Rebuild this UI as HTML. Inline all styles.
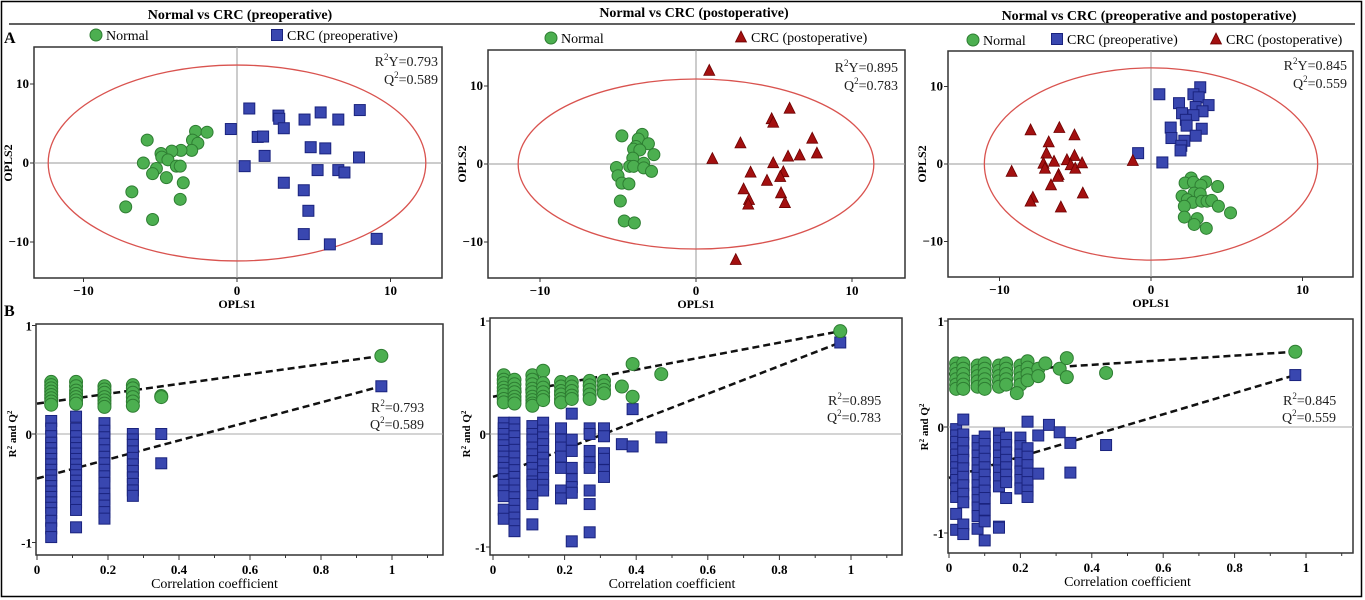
<!DOCTYPE html>
<html><head><meta charset="utf-8">
<style>
html,body{margin:0;padding:0;background:#fff;}
svg{display:block;font-family:"Liberation Serif",serif;}
</style></head>
<body>
<svg id="fig" width="1365" height="600" viewBox="0 0 1365 600" xmlns="http://www.w3.org/2000/svg">
<rect x="1.5" y="1.5" width="1360" height="595" fill="none" stroke="#000" stroke-width="1.5"/>
<line x1="9" y1="24" x2="1355" y2="24" stroke="#000" stroke-width="1.2"/>
<text x="240" y="19" text-anchor="middle" font-weight="bold" font-size="14">Normal vs CRC (preoperative)</text>
<text x="694" y="17" text-anchor="middle" font-weight="bold" font-size="14">Normal vs CRC (postoperative)</text>
<text x="1149" y="20" text-anchor="middle" font-weight="bold" font-size="14">Normal vs CRC (preoperative and postoperative)</text>
<text x="4" y="43" font-weight="bold" font-size="16">A</text>
<text x="4" y="316" font-weight="bold" font-size="16">B</text>
<g id="layer"></g>
</svg>
<script>
// ---------- Score plot data (OPLS1, OPLS2) ----------
const p1NormalX=[-5.85,-2.7,-1.95,-2.9,-2.55,-2.95,-3.65,-4.25,-4.95,-4.9,-4.5,-6.1,-5.25,-5.5,-3.95,-3.7,-4.6,-3.5,-6.85,-7.25,-3.7,-5.5];
const p1NormalY=[2.9,4.0,3.9,2.9,2.5,1.6,1.6,1.5,1.2,0.75,0.4,0,-0.7,-1.35,-0.4,-0.4,-1.85,-2.5,-3.65,-5.55,-4.6,-7.15];
const p1PreX=[0.8,-0.4,2.7,2.75,3.05,4.4,5.45,6.6,8.0,1.35,1.7,4.8,5.75,1.8,7.95,0.5,5.25,6.6,7.0,3.05,4.35,4.65,4.35,6.05,9.1];
const p1PreY=[6.9,4.3,6.0,5.6,4.4,5.5,6.4,5.5,6.7,3.3,3.35,2.0,1.85,0.9,0.7,-0.4,-0.9,-0.9,-1.2,-2.5,-3.45,-6.05,-9.0,-10.3,-9.6];

const p2NormalX=[-4.75,-3.45,-3.7,-3.05,-3.85,-4.0,-3.6,-2.7,-4.05,-3.35,-4.25,-4.0,-3.35,-2.85,-5.1,-5.0,-4.75,-4.3,-4.85,-4.6,-3.95];
const p2NormalY=[3.6,3.8,3.2,2.6,2.25,1.9,1.8,1.2,0.75,0.1,-0.3,-0.3,-0.5,-0.95,-0.45,-1.5,-2.45,-2.55,-4.75,-7.3,-7.55];
const p2PostX=[0.85,6.0,4.85,4.95,2.85,7.45,1.05,7.75,6.65,5.9,4.95,3.5,5.6,5.4,4.55,3.05,5.45,3.4,3.35,5.7,2.55];
const p2PostY=[12.0,7.15,5.8,5.35,2.7,3.3,0.7,1.4,1.15,1.0,0.15,-1.05,-1.0,-1.6,-2.1,-3.2,-3.7,-4.55,-5.15,-4.95,-12.25];

const p3NormalX=[2.65,2.25,2.8,3.6,3.3,4.4,2.05,2.85,3.25,2.4,2.75,3.35,3.7,4.0,2.2,4.45,5.25,2.2,3.05,2.85,3.65];
const p3NormalY=[-1.8,-2.45,-2.35,-2.3,-2.75,-2.9,-4.15,-3.75,-3.85,-4.6,-4.95,-4.8,-4.8,-4.7,-5.45,-5.45,-6.3,-6.85,-7.05,-7.8,-8.3];
const p3PreX=[0.55,3.25,2.8,3.15,3.8,1.85,2.95,3.4,2.05,2.8,2.3,2.35,1.3,3.35,1.35,2.2,2.95,2.0,1.95,-0.85,0.75];
const p3PreY=[9.0,9.9,9.0,8.6,7.6,7.85,7.35,6.8,6.55,6.3,5.7,4.95,4.7,4.55,3.35,3.0,3.65,2.35,1.75,1.4,0.2];
const p3PostX=[-7.95,-6.05,-5.05,-6.75,-6.9,-6.4,-7.1,-7.0,-5.55,-5.05,-5.3,-5.0,-4.55,-9.2,-6.1,-6.15,-6.6,-4.5,-7.8,-7.95,-5.95,-1.2];
const p3PostY=[4.4,4.7,3.75,2.85,1.4,0.35,0.1,-0.55,0.55,1.1,-0.1,-0.55,0.15,-0.95,-1.35,-1.6,-2.7,-3.75,-4.3,-4.8,-5.55,0.45];

const scoreTicks=[-10,0,10];

// ---------- Permutation plot data (correlation, R2 / Q2) ----------
const b1R2X=[0.04,0.04,0.04,0.04,0.04,0.04,0.04,0.04,0.11,0.11,0.11,0.11,0.11,0.11,0.11,0.19,0.19,0.19,0.19,0.19,0.19,0.19,0.27,0.27,0.27,0.27,0.27,0.27,0.35,0.35,0.97];
const b1R2Y=[0.48,0.45,0.42,0.39,0.36,0.33,0.30,0.27,0.48,0.44,0.40,0.37,0.34,0.31,0.28,0.44,0.41,0.38,0.34,0.31,0.28,0.25,0.45,0.42,0.38,0.34,0.30,0.26,0.35,0.34,0.72];
const b1Q2X=[0.04,0.04,0.04,0.04,0.04,0.04,0.04,0.04,0.04,0.04,0.04,0.04,0.04,0.04,0.04,0.04,0.04,0.04,0.04,0.04,
 0.11,0.11,0.11,0.11,0.11,0.11,0.11,0.11,0.11,0.11,0.11,0.11,0.11,0.11,0.11,0.11,0.11,
 0.19,0.19,0.19,0.19,0.19,0.19,0.19,0.19,0.19,0.19,0.19,0.19,0.19,0.19,0.19,
 0.27,0.27,0.27,0.27,0.27,0.27,0.27,0.27,0.27,0.27,0.27,0.35,0.35,0.97];
const b1Q2Y=[0.12,0.05,-0.02,-0.08,-0.13,-0.18,-0.23,-0.28,-0.33,-0.38,-0.43,-0.48,-0.53,-0.58,-0.63,-0.68,-0.73,-0.80,-0.87,-0.95,
 0.16,0.05,-0.02,-0.08,-0.13,-0.18,-0.23,-0.28,-0.33,-0.38,-0.43,-0.48,-0.53,-0.58,-0.63,-0.70,-0.86,
 0.10,0.03,-0.03,-0.09,-0.15,-0.21,-0.27,-0.33,-0.39,-0.45,-0.55,-0.60,-0.66,-0.72,-0.78,
 0.0,-0.05,-0.10,-0.16,-0.22,-0.28,-0.34,-0.40,-0.46,-0.52,-0.57,0.0,-0.27,0.44];
const b1Intercepts=[0.28,-0.41];

const b2R2X=[0.03,0.03,0.03,0.03,0.03,0.03,0.03,0.03,0.06,0.06,0.06,0.06,0.06,0.06,0.06,0.11,0.11,0.11,0.11,0.11,0.11,0.11,0.11,0.11,0.14,0.14,0.14,0.14,0.14,0.14,0.19,0.19,0.19,0.19,0.19,0.19,0.22,0.22,0.22,0.22,0.22,0.27,0.27,0.27,0.27,0.27,0.31,0.31,0.31,0.31,0.36,0.39,0.39,0.47,0.97];
const b2R2Y=[0.52,0.48,0.45,0.41,0.38,0.35,0.31,0.28,0.48,0.44,0.40,0.37,0.33,0.30,0.27,0.52,0.48,0.44,0.40,0.37,0.33,0.30,0.27,0.25,0.56,0.45,0.41,0.37,0.33,0.30,0.46,0.42,0.38,0.35,0.31,0.28,0.46,0.42,0.38,0.34,0.31,0.47,0.43,0.39,0.35,0.31,0.47,0.43,0.39,0.36,0.42,0.62,0.33,0.53,0.91];
const b2Q2X=[0.03,0.03,0.03,0.03,0.03,0.03,0.03,0.03,0.03,0.03,0.03,0.03,0.03,0.03,0.03,0.03,
 0.06,0.06,0.06,0.06,0.06,0.06,0.06,0.06,0.06,0.06,0.06,0.06,0.06,0.06,0.06,0.06,0.06,
 0.11,0.11,0.11,0.11,0.11,0.11,0.11,0.11,0.11,0.11,0.11,0.11,0.11,
 0.14,0.14,0.14,0.14,0.14,0.14,0.14,0.14,0.14,0.14,0.14,
 0.19,0.19,0.19,0.19,0.19,0.19,0.19,0.22,0.22,0.22,0.22,0.22,0.22,0.22,0.22,
 0.27,0.27,0.27,0.27,0.27,0.27,0.27,0.27,0.31,0.31,0.31,0.31,0.31,0.31,0.36,0.39,0.39,0.47,0.97];
const b2Q2Y=[0.10,0.05,0.0,-0.05,-0.10,-0.15,-0.20,-0.25,-0.30,-0.35,-0.40,-0.45,-0.50,-0.55,-0.67,-0.75,
 0.10,0.04,-0.02,-0.08,-0.14,-0.20,-0.26,-0.32,-0.38,-0.44,-0.50,-0.56,-0.62,-0.68,-0.74,-0.80,-0.86,
 0.07,0.0,-0.05,-0.12,-0.18,-0.24,-0.30,-0.36,-0.42,-0.45,-0.55,-0.62,-0.80,
 0.10,0.03,-0.03,-0.09,-0.15,-0.21,-0.27,-0.33,-0.39,-0.45,-0.50,
 0.05,-0.05,-0.12,-0.20,-0.30,-0.50,-0.57,0.18,-0.05,-0.15,-0.30,-0.40,-0.47,-0.52,-0.95,
 0.05,0.0,-0.15,-0.25,-0.30,-0.50,-0.62,-0.87,0.05,-0.02,-0.17,-0.22,-0.32,-0.38,-0.09,-0.11,0.22,-0.03,0.81];
const b2Intercepts=[0.33,-0.38];

const b3R2X=[0.02,0.02,0.02,0.02,0.02,0.02,0.04,0.04,0.04,0.04,0.04,0.04,0.08,0.08,0.08,0.08,0.08,0.10,0.10,0.10,0.10,0.10,0.10,0.14,0.14,0.14,0.14,0.14,0.16,0.16,0.16,0.16,0.16,0.20,0.20,0.20,0.20,0.22,0.22,0.22,0.22,0.19,0.25,0.27,0.31,0.33,0.33,0.44,0.25,0.97];
const b3R2Y=[0.60,0.55,0.50,0.45,0.40,0.36,0.60,0.55,0.50,0.45,0.40,0.36,0.58,0.53,0.48,0.43,0.38,0.60,0.55,0.50,0.45,0.40,0.36,0.58,0.53,0.48,0.43,0.38,0.60,0.55,0.50,0.45,0.40,0.58,0.52,0.46,0.40,0.62,0.56,0.50,0.44,0.32,0.55,0.60,0.55,0.65,0.47,0.51,0.48,0.71];
const b3Q2X=[0.02,0.02,0.02,0.02,0.02,0.02,0.02,0.02,0.02,0.02,0.02,0.02,0.02,
 0.04,0.04,0.04,0.04,0.04,0.04,0.04,0.04,0.04,0.04,0.04,
 0.08,0.08,0.08,0.08,0.08,0.08,0.08,0.08,0.08,0.08,0.08,0.08,
 0.10,0.10,0.10,0.10,0.10,0.10,0.10,0.10,0.10,0.10,0.10,
 0.14,0.14,0.14,0.14,0.14,0.14,0.14,0.14,0.14,
 0.16,0.16,0.16,0.16,0.16,0.16,0.16,0.16,
 0.20,0.20,0.20,0.20,0.20,0.20,0.20,0.22,0.22,0.22,0.22,0.22,0.22,0.22,
 0.04,0.22,0.28,0.25,0.31,0.34,0.44,0.25,0.34,0.10,0.14,0.97];
const b3Q2Y=[-0.02,-0.08,-0.14,-0.20,-0.26,-0.32,-0.38,-0.44,-0.50,-0.58,-0.66,-0.82,-0.97,
 -0.07,-0.15,-0.23,-0.31,-0.39,-0.47,-0.55,-0.63,-0.71,-0.92,-1.01,
 -0.13,-0.20,-0.27,-0.34,-0.41,-0.48,-0.55,-0.62,-0.69,-0.76,-0.84,-0.96,
 -0.09,-0.16,-0.23,-0.30,-0.38,-0.45,-0.52,-0.60,-0.67,-0.78,-0.89,
 -0.06,-0.13,-0.20,-0.27,-0.34,-0.41,-0.48,-0.56,-0.94,
 -0.10,-0.17,-0.24,-0.31,-0.38,-0.45,-0.52,-0.67,
 -0.10,-0.18,-0.26,-0.34,-0.42,-0.50,-0.58,-0.20,-0.28,-0.36,-0.44,-0.52,-0.60,-0.66,
 0.07,0.05,0.02,-0.08,-0.05,-0.15,-0.17,-0.44,-0.43,-1.07,-0.95,0.49];
const b3Intercepts=[0.50,-0.48];

const permXTicks=[0,0.2,0.4,0.6,0.8,1];
const permYTicks=[-1,0,1];

const NS="http://www.w3.org/2000/svg";
const layer=document.getElementById('layer');
function mk(tag,attrs,parent){const e=document.createElementNS(NS,tag);for(const k in attrs)e.setAttribute(k,attrs[k]);(parent||layer).appendChild(e);return e;}
function txt(x,y,s,attrs,parent){const e=mk('text',Object.assign({x:x,y:y},attrs||{}),parent);e.textContent=s;return e;}

const GREEN={fill:'#4caf50',stroke:'#2e7d32'};
const BLUE={fill:'#3947b0',stroke:'#1a237e'};
const RED={fill:'#a31010',stroke:'#6d0000'};

function circle(g,x,y,r,name){const e=mk('circle',{cx:x,cy:y,r:r,fill:GREEN.fill,stroke:GREEN.stroke,'stroke-width':1},g);

return e;}
function square(g,x,y,s,name){const e=mk('rect',{x:x-s/2,y:y-s/2,width:s,height:s,fill:BLUE.fill,stroke:BLUE.stroke,'stroke-width':1},g);

return e;}
function tri(g,x,y,s,name){const h=s*0.9;const e=mk('polygon',{points:`${x},${y-h/2-1} ${x-s/2},${y+h/2} ${x+s/2},${y+h/2}`,fill:RED.fill,stroke:RED.stroke,'stroke-width':0.8},g);

return e;}

function scorePanel(cfg){
  const g=mk('g',{});
  
  
  const X=v=>cfg.x0+v*cfg.sx, Y=v=>cfg.y0-v*cfg.sy;
  const [bx0,by0,bx1,by1]=cfg.box;
  const box=mk('rect',{x:bx0,y:by0,width:bx1-bx0,height:by1-by0,fill:'#fff',stroke:'#333','stroke-width':1.5},g);
  
  
  mk('line',{x1:X(0),y1:by0,x2:X(0),y2:by1,stroke:'#999','stroke-width':1},g);
  mk('line',{x1:bx0,y1:Y(0),x2:bx1,y2:Y(0),stroke:'#999','stroke-width':1},g);
  const ell=mk('ellipse',{cx:X(0),cy:Y(0),rx:cfg.erx*cfg.sx,ry:cfg.ery*cfg.sy,fill:'none',stroke:'#d9534f','stroke-width':1.3},g);
  
  
  scoreTicks.forEach(t=>{
    mk('line',{x1:X(t),y1:by1,x2:X(t),y2:by1+4,stroke:'#333'},g);
    const a=txt(X(t),by1+17,t===-10?'\u221210':String(t),{'text-anchor':'middle','font-weight':'bold','font-size':13},g);
    
    
    mk('line',{x1:bx0-4,y1:Y(t),x2:bx0,y2:Y(t),stroke:'#333'},g);
    const b=txt(bx0-5,Y(t)+4,t===-10?'\u221210':String(t),{'text-anchor':'end','font-weight':'bold','font-size':13},g);
    
    
  });
  const yl=txt(0,0,'OPLS2',{'font-weight':'bold','font-size':12,'text-anchor':'middle',transform:`translate(${bx0-22},${Y(0)}) rotate(-90)`},g);
  
  
  const xl=txt(X(0),by1+30,'OPLS1',{'font-weight':'bold','font-size':12,'text-anchor':'middle'},g);
  
  
  cfg.series.forEach(s=>{
    s.xs.forEach((v,i)=>{
      if(s.kind==='c')circle(g,X(v),Y(s.ys[i]),6,'normal-point');
      else if(s.kind==='s')square(g,X(v),Y(s.ys[i]),11,'crc-preoperative-point');
      else tri(g,X(v),Y(s.ys[i]),11,'crc-postoperative-point');
    });
  });
  const r1=txt(cfg.ann[0],cfg.ann[1],'',{'text-anchor':'end','font-size':14,fill:'#222'},g);
  r1.innerHTML='R<tspan font-size="9" dy="-6">2</tspan><tspan dy="6">Y=0.'+cfg.r2+'</tspan>';
  
  
  const q1=txt(cfg.ann[0],cfg.ann[1]+18,'',{'text-anchor':'end','font-size':14,fill:'#222'},g);
  q1.innerHTML='Q<tspan font-size="9" dy="-6">2</tspan><tspan dy="6">=0.'+cfg.q2+'</tspan>';
  
  
  cfg.legend.forEach(l=>{
    const lg=mk('g',{},g);
    
    
    if(l.k==='c')circle(lg,l.x,l.y,6,'legend-marker-normal');
    else if(l.k==='s')square(lg,l.x,l.y,11,'legend-marker-preoperative');
    else tri(lg,l.x,l.y,11,'legend-marker-postoperative');
    txt(l.x+10,l.y+5,l.t,{'font-size':14},lg);
  });
}

function permPanel(cfg){
  const g=mk('g',{});
  
  
  const X=v=>cfg.x0+v*cfg.sx, Y=v=>cfg.y0-v*cfg.sy;
  const [bx0,by0,bx1,by1]=cfg.box;
  const box=mk('rect',{x:bx0,y:by0,width:bx1-bx0,height:by1-by0,fill:'#fff',stroke:'#333','stroke-width':1.5},g);
  
  
  mk('line',{x1:bx0,y1:Y(0),x2:bx1,y2:Y(0),stroke:'#aaa','stroke-width':1},g);
  for(let t=0;t<=11;t++){mk('line',{x1:X(t/10),y1:by1,x2:X(t/10),y2:by1+(t%2?3:5),stroke:'#333'},g);}
  permXTicks.forEach(t=>{
    const a=txt(X(t),by1+19,String(t),{'text-anchor':'middle','font-weight':'bold','font-size':13},g);
    
    
  });
  permYTicks.forEach(t=>{
    mk('line',{x1:bx0-4,y1:Y(t),x2:bx0,y2:Y(t),stroke:'#333'},g);
    const b=txt(bx0-4,Y(t)+5,t===-1?'-1':String(t),{'text-anchor':'end','font-weight':'bold','font-size':13},g);
    
    
  });
  const yl=txt(0,0,'',{'font-weight':'bold','font-size':11,'text-anchor':'middle',transform:`translate(${bx0-20},${Y(0)}) rotate(-90)`},g);
  yl.innerHTML='R<tspan font-size="7" dy="-4">2</tspan><tspan dy="4"> and Q</tspan><tspan font-size="7" dy="-4">2</tspan>';
  
  
  const xl=txt(X(0.5),by1+33,'Correlation coefficient',{'text-anchor':'middle','font-size':14},g);
  
  
  const r2n=cfg.r2x.length-1, q2n=cfg.q2x.length-1;
  const l1=mk('line',{x1:X(0),y1:Y(cfg.ints[0]),x2:X(cfg.r2x[r2n]),y2:Y(cfg.r2y[r2n]),stroke:'#111','stroke-width':2.5,'stroke-dasharray':'7,4'},g);
  
  
  const l2=mk('line',{x1:X(0),y1:Y(cfg.ints[1]),x2:X(cfg.q2x[q2n]),y2:Y(cfg.q2y[q2n]),stroke:'#111','stroke-width':2.5,'stroke-dasharray':'7,4'},g);
  
  
  cfg.q2x.forEach((v,i)=>square(g,X(v),Y(cfg.q2y[i]),11,'q2-point'));
  cfg.r2x.forEach((v,i)=>circle(g,X(v),Y(cfg.r2y[i]),6.5,'r2-point'));
  const r1=txt(cfg.ann[0],cfg.ann[1],'',{'font-size':14,fill:'#222'},g);
  r1.innerHTML='R<tspan font-size="9" dy="-6">2</tspan><tspan dy="6">=0.'+cfg.r2+'</tspan>';
  
  
  const q1=txt(cfg.ann[0]-1,cfg.ann[1]+17,'',{'font-size':14,fill:'#222'},g);
  q1.innerHTML='Q<tspan font-size="9" dy="-6">2</tspan><tspan dy="6">=0.'+cfg.q2+'</tspan>';
  
  
}

scorePanel({name:'score-plot-preoperative',box:[34,47,442,278],x0:237,sx:15.35,y0:163,sy:7.9,erx:12.3,ery:12.4,
  series:[{kind:'c',xs:p1NormalX,ys:p1NormalY},{kind:'s',xs:p1PreX,ys:p1PreY}],
  ann:[438,66],r2:'793',q2:'589',
  legend:[{k:'c',x:96,y:35,t:'Normal'},{k:'s',x:277,y:35,t:'CRC  (preoperative)'}]});
scorePanel({name:'score-plot-postoperative',box:[488,50,905,278],x0:696,sx:15.6,y0:164,sy:7.8,erx:11.4,ery:10.9,
  series:[{kind:'c',xs:p2NormalX,ys:p2NormalY},{kind:'t',xs:p2PostX,ys:p2PostY}],
  ann:[898,72],r2:'895',q2:'783',
  legend:[{k:'c',x:551,y:38,t:'Normal'},{k:'t',x:741,y:37,t:'CRC (postoperative)'}]});
scorePanel({name:'score-plot-combined',box:[948,51,1353,277],x0:1151,sx:15.15,y0:164,sy:7.75,erx:11,ery:12.4,
  series:[{kind:'c',xs:p3NormalX,ys:p3NormalY},{kind:'s',xs:p3PreX,ys:p3PreY},{kind:'t',xs:p3PostX,ys:p3PostY}],
  ann:[1347,70],r2:'845',q2:'559',
  legend:[{k:'c',x:973,y:40,t:'Normal'},{k:'s',x:1057,y:39,t:'CRC (preoperative)'},{k:'t',x:1216,y:39,t:'CRC (postoperative)'}]});

permPanel({name:'permutation-plot-preoperative',box:[36,324,443,555],x0:37,sx:355,y0:434,sy:108.5,
  r2x:b1R2X,r2y:b1R2Y,q2x:b1Q2X,q2y:b1Q2Y,ints:b1Intercepts,ann:[371,412],r2:'793',q2:'589'});
permPanel({name:'permutation-plot-postoperative',box:[490,318,902,555],x0:493,sx:358,y0:434,sy:113,
  r2x:b2R2X,r2y:b2R2Y,q2x:b2Q2X,q2y:b2Q2Y,ints:b2Intercepts,ann:[828,405],r2:'895',q2:'783'});
permPanel({name:'permutation-plot-combined',box:[948,319,1353,553],x0:949,sx:357,y0:427,sy:106,
  r2x:b3R2X,r2y:b3R2Y,q2x:b3Q2X,q2y:b3Q2Y,ints:b3Intercepts,ann:[1283,405],r2:'845',q2:'559'});
</script>
</body></html>
